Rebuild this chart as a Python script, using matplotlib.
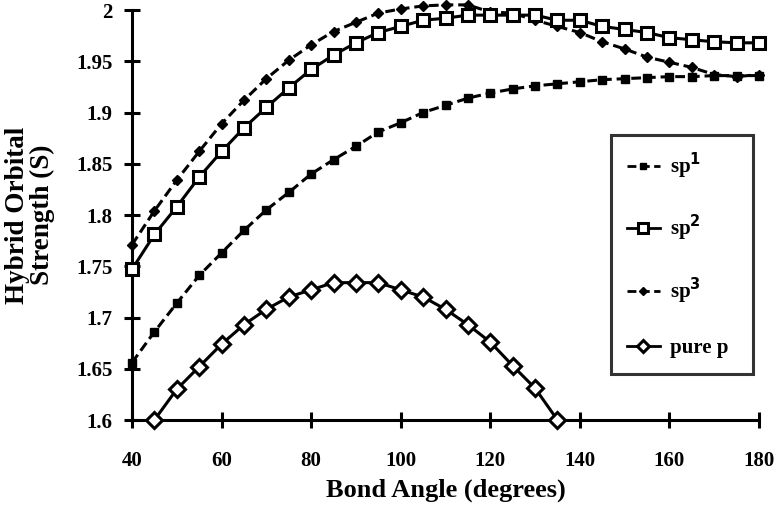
import matplotlib
matplotlib.use("Agg")
import matplotlib.pyplot as plt
import numpy as np

# bond angle (degrees), one point every 5 degrees
angle = np.arange(40, 181, 5)

sp1 = [1.656, 1.686, 1.714, 1.741, 1.763, 1.785, 1.805, 1.822, 1.840, 1.854,
       1.867, 1.881, 1.890, 1.900, 1.907, 1.914, 1.919, 1.923, 1.926, 1.928,
       1.930, 1.932, 1.933, 1.934, 1.935, 1.935, 1.936, 1.936, 1.936]
sp2 = [1.747, 1.781, 1.808, 1.837, 1.862, 1.885, 1.905, 1.924, 1.942, 1.956,
       1.968, 1.978, 1.984, 1.990, 1.992, 1.995, 1.995, 1.995, 1.995, 1.990,
       1.990, 1.984, 1.981, 1.978, 1.973, 1.971, 1.969, 1.968, 1.968]
sp3 = [1.771, 1.804, 1.834, 1.862, 1.889, 1.912, 1.933, 1.951, 1.966, 1.979,
       1.988, 1.997, 2.001, 2.004, 2.005, 2.005, 1.998, 1.997, 1.990, 1.984,
       1.978, 1.969, 1.962, 1.954, 1.949, 1.944, 1.937, 1.935, 1.937]
# pure p only between 45 and 135 degrees
angle_p = np.arange(45, 136, 5)
pure_p = [1.600, 1.630, 1.652, 1.674, 1.693, 1.708, 1.720, 1.727, 1.734, 1.734,
          1.734, 1.727, 1.720, 1.708, 1.693, 1.676, 1.653, 1.631, 1.600]

xticks = [40, 60, 80, 100, 120, 140, 160, 180]
yticks = [1.6, 1.65, 1.7, 1.75, 1.8, 1.85, 1.9, 1.95, 2.0]
ytick_labels = ["1.6", "1.65", "1.7", "1.75", "1.8", "1.85", "1.9", "1.95", "2"]

plt.rcParams["font.family"] = ["Liberation Serif", "DejaVu Serif"]
plt.rcParams["font.weight"] = "bold"
plt.rcParams["axes.labelweight"] = "bold"
plt.rcParams["mathtext.default"] = "bf"

fig = plt.figure(figsize=(7.77, 5.11), dpi=100)
ax = fig.add_axes([132 / 777, 1 - 420 / 511, 627 / 777, 410 / 511])

lw = 2.2
ax.plot(angle, sp1, color="black", lw=lw, ls=(0, (3.2, 1.6)), marker="s",
        ms=5.5, mfc="black", mec="black", label="sp$^1$", clip_on=False, zorder=3)
ax.plot(angle, sp2, color="black", lw=lw, ls="-", marker="s",
        ms=9, mfc="white", mec="black", mew=2.2, label="sp$^2$", clip_on=False, zorder=4)
ax.plot(angle, sp3, color="black", lw=lw, ls=(0, (3.2, 1.6)), marker="D",
        ms=5, mfc="black", mec="black", label="sp$^3$", clip_on=False, zorder=3)
ax.plot(angle_p, pure_p, color="black", lw=lw, ls="-", marker="D",
        ms=8, mfc="white", mec="black", mew=2.2, label="pure p", clip_on=False, zorder=4)

ax.set_xlim(40, 180)
ax.set_ylim(1.6, 2.0)
ax.set_xticks(xticks)
ax.set_yticks(yticks)
ax.set_yticklabels(ytick_labels)

for side in ["top", "right"]:
    ax.spines[side].set_visible(False)
for side in ["left", "bottom"]:
    ax.spines[side].set_linewidth(2.2)
ax.tick_params(direction="inout", length=12, width=2.2, labelsize=15, pad=8)
ax.tick_params(axis="x", pad=16)

ax.set_xlabel("Bond Angle (degrees)", fontsize=19, labelpad=6)
ax.set_ylabel("Hybrid Orbital\nStrength (S)", fontsize=19.5, labelpad=15, linespacing=1.0)

leg = ax.legend(loc="upper left", bbox_to_anchor=(0.764, 0.11, 0.226, 0.585),
                mode="expand", fontsize=15,
                frameon=True, fancybox=False, edgecolor="black",
                handlelength=1.6, handletextpad=0.5, labelspacing=1.55,
                borderpad=0.75, borderaxespad=0, markerscale=0.8)
leg.get_frame().set_linewidth(2.2)
for h in leg.get_lines():
    h.set_linewidth(2.0)

plt.savefig("out.png", dpi=100)
